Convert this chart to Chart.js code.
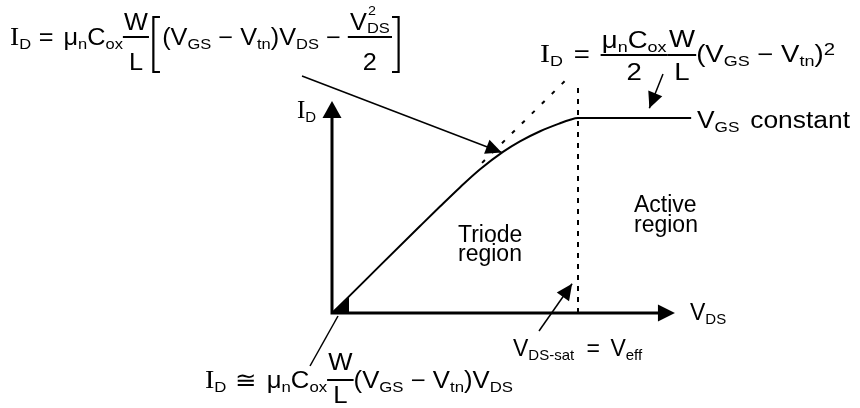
<!DOCTYPE html>
<html>
<head>
<meta charset="utf-8">
<script src="https://cdn.jsdelivr.net/npm/chart.js@4.4.1/dist/chart.umd.min.js"></script>
<style>
  html, body { margin: 0; padding: 0; background: #ffffff; }
  canvas { display: block; }
</style>
</head>
<body>
<canvas id="iv" width="860" height="408"></canvas>
<script>
// n-channel MOSFET drain characteristic at constant V_GS.
// V_DS is expressed in units of V_eff, I_D in units of the saturation current.

// triode region (rising almost linearly, then bending over towards V_DS = V_eff)
const vdsTriode = [0, 0.061, 0.195, 0.358, 0.439, 0.520, 0.602, 0.695, 0.764, 0.846, 0.927, 0.965, 1.0];
const idTriode  = [0, 0.075, 0.243, 0.446, 0.546, 0.644, 0.737, 0.826, 0.880, 0.932, 0.973, 0.990, 1.0];

// active (saturation) region: flat current
const vdsActive = [1.0, 1.46];
const idActive  = [1.0, 1.0];

// small-V_DS linear approximation, continued past the point where the curve bends
const vdsLinear = [0.61, 0.955];
const idLinear  = [0.77, 1.20];

// boundary between the regions
const vdsSat = 1.0;
const idBoundaryTop = 1.17;

// axis extents (arrow tips)
const vdsAxisEnd = 1.394;
const idAxisEnd  = 1.087;

// points the equation call-outs refer to
const calloutTriode = { x: 0.69, y: 0.823 };
const calloutActive = { x: 1.29, y: 1.05 };
const calloutVsat   = { x: 0.976, y: 0.15 };
const calloutLinear = [ { x: 0, y: 0 }, { x: 0.069, y: 0.082 }, { x: 0.069, y: 0 } ];

const toPts = (xs, ys) => xs.map((v, i) => ({ x: v, y: ys[i] }));

// ---------- simple math-text typesetting ----------
const SANS  = '"Liberation Sans", Arial, Helvetica, sans-serif';
const SERIF = '"Liberation Serif", "Times New Roman", serif';
const FONTS = {
  main:  `23px ${SANS}`,
  serif: `25px ${SERIF}`,
  sub:   `15px ${SANS}`,
  small: `13px ${SANS}`,
  sup:   `17px ${SANS}`
};
const DY = { main: 0, serif: 0, sub: 4, small: 4, sup: -7 };

function tokWidth(ctx, k) {
  if (k.gap !== undefined) return k.gap;
  if (k.frac) return Math.max(rowWidth(ctx, k.frac[0]), rowWidth(ctx, k.frac[1])) + 2 * (k.pad || 1);
  if (k.br) return k.w || 10;
  if (k.ss) {
    ctx.font = FONTS.small; const a = ctx.measureText(k.ss[0]).width;
    ctx.font = FONTS.sub;   const b = ctx.measureText(k.ss[1]).width;
    return Math.max(a, b);
  }
  ctx.font = FONTS[k.f || 'main'];
  return ctx.measureText(k.t).width;
}
function rowWidth(ctx, toks) {
  let w = 0;
  for (const k of toks) w += tokWidth(ctx, k);
  return w;
}
function drawRow(ctx, toks, x, y) {
  for (const k of toks) {
    const w = tokWidth(ctx, k);
    if (k.frac) {
      const nw = rowWidth(ctx, k.frac[0]), dw = rowWidth(ctx, k.frac[1]);
      drawRow(ctx, k.frac[0], x + (w - nw) / 2, y - k.num);
      drawRow(ctx, k.frac[1], x + (w - dw) / 2, y + k.den);
      ctx.save();
      ctx.lineWidth = 2;
      ctx.beginPath();
      ctx.moveTo(x, y - k.bar); ctx.lineTo(x + w, y - k.bar);
      ctx.stroke();
      ctx.restore();
    } else if (k.br) {
      const top = y - k.top, bot = y + k.bot;
      const sx = k.br === '[' ? x + 4 : x + w - 4;
      const dir = k.br === '[' ? 1 : -1;
      ctx.save();
      ctx.lineWidth = 2;
      ctx.beginPath();
      ctx.moveTo(sx + dir * 6, top); ctx.lineTo(sx, top);
      ctx.lineTo(sx, bot); ctx.lineTo(sx + dir * 6, bot);
      ctx.stroke();
      ctx.restore();
    } else if (k.ss) {
      ctx.font = FONTS.small; ctx.fillText(k.ss[0], x + 1, y - 15);
      ctx.font = FONTS.sub;   ctx.fillText(k.ss[1], x, y + 3);
    } else if (k.gap === undefined) {
      ctx.font = FONTS[k.f || 'main'];
      ctx.fillText(k.t, x, y + (DY[k.f || 'main'] || 0));
    }
    x += w;
  }
}
// draw a row so that it spans exactly [x0, x1]
function drawFitted(ctx, toks, x0, x1, y) {
  const w = rowWidth(ctx, toks);
  const s = (x1 - x0) / w;
  ctx.save();
  ctx.translate(x0, 0);
  ctx.scale(s, 1);
  drawRow(ctx, toks, 0, y);
  ctx.restore();
}

const eqTriode = [
  { t: 'I', f: 'serif' }, { t: 'D', f: 'sub' }, { gap: 7 }, { t: '=' }, { gap: 9 },
  { t: 'μ' }, { t: 'n', f: 'sub' }, { t: 'C' }, { t: 'ox', f: 'sub' },
  { frac: [[{ t: 'W' }], [{ t: 'L' }]], num: 15, den: 25, bar: 8, pad: 1 },
  { br: '[', top: 28, bot: 27, w: 12 },
  { t: '(V' }, { t: 'GS', f: 'sub' }, { t: ' − V' }, { t: 'tn', f: 'sub' }, { t: ')V' }, { t: 'DS', f: 'sub' }, { t: ' − ' },
  { frac: [[{ t: 'V' }, { ss: ['2', 'DS'] }], [{ t: '2' }]], num: 15, den: 25, bar: 8, pad: 2 },
  { br: ']', top: 28, bot: 27, w: 10 }
];
const eqActive = [
  { t: 'I', f: 'serif' }, { t: 'D', f: 'sub' }, { gap: 9 }, { t: '=' }, { gap: 9 },
  { frac: [[{ t: 'μ' }, { t: 'n', f: 'sub' }, { t: 'C' }, { t: 'ox', f: 'sub' }], [{ t: '2' }]], num: 14, den: 18, bar: 7, pad: 1 },
  { frac: [[{ t: 'W' }], [{ t: 'L' }]], num: 15, den: 18, bar: 7, pad: 1 },
  { t: '(V' }, { t: 'GS', f: 'sub' }, { t: ' − V' }, { t: 'tn', f: 'sub' }, { t: ')' }, { t: '2', f: 'sup' }
];
const eqLinear = [
  { t: 'I', f: 'serif' }, { t: 'D', f: 'sub' }, { gap: 8 }, { t: '≅' }, { gap: 9 },
  { t: 'μ' }, { t: 'n', f: 'sub' }, { t: 'C' }, { t: 'ox', f: 'sub' },
  { frac: [[{ t: 'W' }], [{ t: 'L' }]], num: 18, den: 15, bar: 8, pad: 1 },
  { t: '(V' }, { t: 'GS', f: 'sub' }, { t: ' − V' }, { t: 'tn', f: 'sub' }, { t: ')V' }, { t: 'DS', f: 'sub' }
];
const lblId   = [{ t: 'I', f: 'serif' }, { t: 'D', f: 'sub' }];
const lblVds  = [{ t: 'V' }, { t: 'DS', f: 'sub' }];
const lblVgs  = [{ t: 'V' }, { t: 'GS', f: 'sub' }, { gap: 3 }, { t: ' constant' }];
const lblVsat = [{ t: 'V' }, { t: 'DS-sat', f: 'sub' }, { gap: 6 }, { t: ' = ' }, { gap: 4 }, { t: 'V' }, { t: 'eff', f: 'sub' }];

// ---------- arrows ----------
function arrowHead(ctx, fx, fy, tx, ty, len, half) {
  const a = Math.atan2(ty - fy, tx - fx);
  const bx = tx - len * Math.cos(a), by = ty - len * Math.sin(a);
  ctx.beginPath();
  ctx.moveTo(tx, ty);
  ctx.lineTo(bx + half * Math.sin(a), by - half * Math.cos(a));
  ctx.lineTo(bx - half * Math.sin(a), by + half * Math.cos(a));
  ctx.closePath();
  ctx.fill();
}
function leader(ctx, fx, fy, tx, ty, len, half) {
  ctx.save();
  ctx.lineWidth = 1.5;
  ctx.beginPath();
  ctx.moveTo(fx, fy); ctx.lineTo(tx, ty);
  ctx.stroke();
  if (len) arrowHead(ctx, fx, fy, tx, ty, len, half);
  ctx.restore();
}

const diagramPlugin = {
  id: 'ivDiagram',
  beforeDatasetsDraw(chart) {
    const { ctx, scales: { x, y } } = chart;
    const ox = x.getPixelForValue(0), oy = y.getPixelForValue(0);
    const xe = x.getPixelForValue(vdsAxisEnd), ye = y.getPixelForValue(idAxisEnd);
    ctx.save();
    ctx.fillStyle = '#000'; ctx.strokeStyle = '#000';
    ctx.lineWidth = 3;
    ctx.lineCap = 'square';
    ctx.beginPath();
    ctx.moveTo(ox, oy); ctx.lineTo(ox, ye + 12);
    ctx.moveTo(ox, oy); ctx.lineTo(xe - 12, oy);
    ctx.stroke();
    arrowHead(ctx, ox, oy, ox, ye, 17, 9.5);
    arrowHead(ctx, ox, oy, xe, oy, 17, 8.5);
    ctx.restore();
  },
  afterDatasetsDraw(chart) {
    const { ctx, scales: { x, y } } = chart;
    const px = p => [x.getPixelForValue(p.x), y.getPixelForValue(p.y)];
    ctx.save();
    ctx.fillStyle = '#000'; ctx.strokeStyle = '#000';
    ctx.textBaseline = 'alphabetic';

    // call-out leaders
    const [t1x, t1y] = px(calloutTriode);
    leader(ctx, 302, 76, t1x, t1y, 16, 7.5);
    const [t2x, t2y] = px(calloutActive);
    leader(ctx, 663, 74, t2x, t2y, 16, 7.5);
    const [t3x, t3y] = px(calloutVsat);
    leader(ctx, 539, 331, t3x, t3y, 16, 7.5);
    const w = calloutLinear.map(px);
    leader(ctx, 310, 366, w[0][0] + 6, w[0][1] + 3, 0, 0);
    ctx.beginPath();
    ctx.moveTo(w[0][0], w[0][1]);
    ctx.lineTo(w[1][0], w[1][1]);
    ctx.lineTo(w[2][0], w[2][1]);
    ctx.closePath();
    ctx.fill();

    // equations
    drawFitted(ctx, eqTriode, 10, 403, 45);
    drawFitted(ctx, eqActive, 540, 835, 62);
    drawFitted(ctx, eqLinear, 205, 513, 388);

    // axis and region labels
    drawRow(ctx, lblId, 297, 118);
    drawRow(ctx, lblVds, 690, 320);
    drawFitted(ctx, lblVgs, 697, 850, 128);
    drawRow(ctx, lblVsat, 513, 356);
    ctx.font = FONTS.main;
    ctx.fillText('Triode', 458, 242);
    ctx.fillText('region', 458, 261);
    ctx.fillText('Active', 634, 212);
    ctx.fillText('region', 634, 232);
    ctx.restore();
  }
};

new Chart(document.getElementById('iv'), {
  type: 'line',
  data: {
    datasets: [
      {
        data: toPts(vdsTriode, idTriode).concat(toPts(vdsActive, idActive).slice(1)),
        borderColor: '#000', borderWidth: 2, pointRadius: 0,
        cubicInterpolationMode: 'monotone', clip: false
      },
      {
        data: toPts(vdsLinear, idLinear),
        borderColor: '#000', borderWidth: 2, borderDash: [4, 10], pointRadius: 0, clip: false
      },
      {
        data: [{ x: vdsSat, y: 0 }, { x: vdsSat, y: idBoundaryTop }],
        borderColor: '#000', borderWidth: 2, borderDash: [5, 6], pointRadius: 0, clip: false
      }
    ]
  },
  options: {
    responsive: false,
    animation: false,
    devicePixelRatio: 1,
    layout: { padding: { left: 332, right: 134.4, top: 69.25, bottom: 95 } },
    plugins: { legend: { display: false }, tooltip: { enabled: false } },
    events: [],
    scales: {
      x: { type: 'linear', min: 0, max: 1.6, display: false },
      y: { type: 'linear', min: 0, max: 1.25, display: false }
    }
  },
  plugins: [diagramPlugin]
});
</script>
</body>
</html>
